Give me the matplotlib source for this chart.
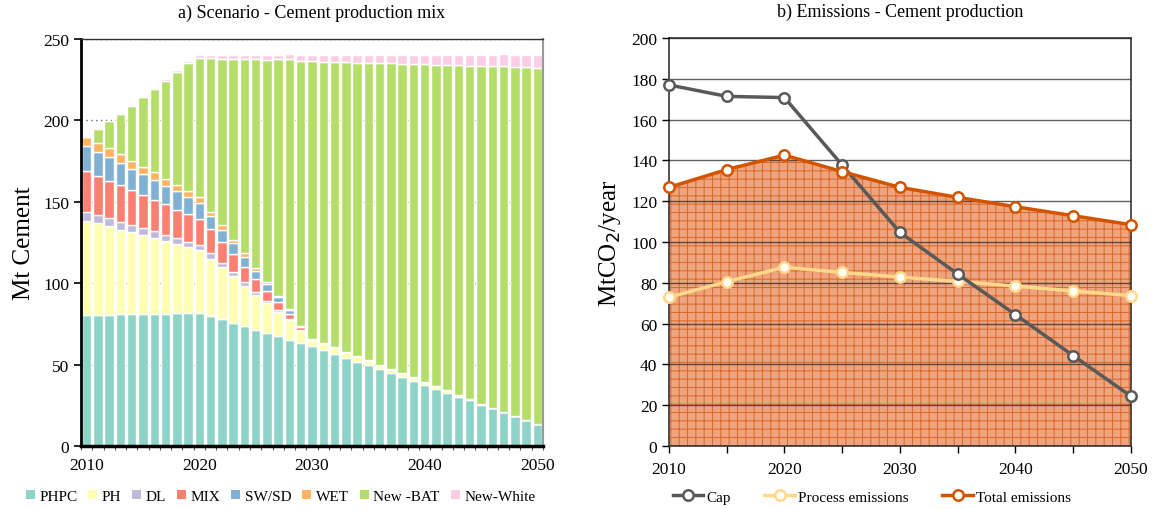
import numpy as np
import matplotlib
matplotlib.use("Agg")
import matplotlib.pyplot as plt
from matplotlib.patches import Patch
from matplotlib.lines import Line2D

plt.rcParams['font.family'] = ['Liberation Serif', 'DejaVu Serif']
plt.rcParams['font.serif'] = ['Liberation Serif', 'DejaVu Serif']
plt.rcParams['hatch.linewidth'] = 0.75

# ---- a) cement production mix (Mt cement) ----
years = np.arange(2010, 2051)
phpc = [80.7, 80.7, 80.7, 81.1, 81.1, 81.1, 81.3, 81.3, 81.7, 81.7, 81.9, 79.9, 77.8, 75.6,
        73.5, 71.4, 69.4, 67.6, 65.3, 63.3, 61.6, 59.2, 56.7, 54.3, 51.8, 49.6, 47.1, 44.8,
        42.2, 39.9, 37.5, 35.0, 32.7, 30.3, 28.1, 25.4, 23.1, 20.7, 18.2, 15.8, 13.3]
ph = [57.7, 56.3, 54.3, 51.8, 50.1, 48.5, 46.3, 44.4, 42.4, 40.3, 38.5, 35.0, 32.0, 28.6,
      25.0, 21.5, 18.2, 14.5, 11.9, 7.8, 3.7, 3.9, 3.9, 3.6, 3.5, 3.0, 2.8, 2.5, 2.6, 2.3,
      2.0, 1.9, 1.7, 1.2, 0.7, 0.6, 0.4, 0.3, 0.2, 0.2, 0.1]
dl = [5.5, 5.1, 5.0, 4.9, 4.7, 4.3, 4.3, 4.1, 3.7, 3.5, 3.3, 3.5, 2.6, 2.9, 2.4, 1.9, 1.6,
      1.4, 0.8, 0.3] + [0] * 21
mix = [24.8, 24.0, 22.6, 22.7, 21.6, 20.5, 19.2, 18.7, 17.4, 17.0, 15.7, 14.9, 13.1, 10.8,
       9.2, 7.8, 6.2, 4.7, 3.1, 1.6, 0.2] + [0] * 20
swsd = [15.5, 14.7, 14.9, 13.3, 12.6, 12.7, 12.3, 11.4, 11.2, 10.2, 9.7, 7.8, 7.4, 6.6,
        5.8, 5.1, 4.1, 3.4, 2.5, 0.6, 0.1] + [0] * 20
wet = [5.8, 5.3, 5.5, 5.4, 5.2, 4.5, 4.7, 4.1, 3.9, 4.1, 4.0, 2.8, 2.8, 2.2, 2.5, 1.6, 1.4,
       0.5, 0.3, 0.4] + [0] * 21
new_bat = [0, 8.6, 16.4, 24.9, 33.7, 42.6, 51.0, 60.4, 69.6, 78.5, 85.0, 94.2, 102.2, 111.0,
           119.1, 128.2, 136.4, 145.4, 153.6, 162.6, 170.8, 173.0, 175.3, 177.8, 180.2,
           182.9, 185.4, 187.8, 190.1, 192.5, 195.0, 197.4, 199.9, 202.6, 204.9, 207.7,
           210.2, 212.3, 214.7, 217.1, 219.1]
new_white = [0, 0.2, 0.3, 0.3, 0.4, 0.5, 0.6, 0.8, 1.0, 1.2, 2.2, 2.4, 2.4, 2.6, 2.8, 2.6,
             2.8, 3.0, 3.2, 3.3, 3.7, 4.0, 4.0, 4.3, 4.5, 4.6, 4.8, 5.3, 5.3, 5.5, 5.8, 5.9,
             6.0, 6.1, 6.8, 6.8, 6.8, 7.3, 7.4, 7.3, 7.8]

mix_names = ['PHPC', 'PH', 'DL', 'MIX', 'SW/SD', 'WET', 'New -BAT', 'New-White']
mix_colors = ['#8dd3c7', '#ffffb3', '#bebada', '#fb8072', '#80b1d3', '#fdb462',
              '#b3de69', '#fccde5']
year_ticks = [2010, 2020, 2030, 2040, 2050]

# ---- b) emissions (MtCO2/year) ----
em_years = [2010, 2015, 2020, 2025, 2030, 2035, 2040, 2045, 2050]
cap = [177.0, 171.4, 170.8, 137.7, 104.7, 84.3, 64.4, 44.3, 24.4]
process = [72.9, 80.6, 87.6, 85.1, 82.8, 80.7, 78.4, 76.0, 73.7]
total = [126.8, 135.5, 142.6, 134.5, 126.8, 121.9, 117.3, 112.9, 108.5]

fig = plt.figure(figsize=(11.64, 5.10), dpi=100)
ax1 = fig.add_axes([0.0696, 0.1235, 0.3969, 0.798])
ax2 = fig.add_axes([0.5747, 0.1235, 0.3969, 0.800])

# stacked bars
bottom = np.zeros(len(years))
for vals, name, col in zip([phpc, ph, dl, mix, swsd, wet, new_bat, new_white], mix_names, mix_colors):
    ax1.bar(years, vals, width=0.84, bottom=bottom, color=col, edgecolor='white',
            linewidth=1.0, label=name, zorder=2)
    bottom += np.array(vals)

ax1.set_xlim(2009.5, 2050.5)
ax1.set_ylim(0, 250)
ax1.set_yticks(range(0, 251, 50))
ax1.set_yticklabels([str(v) for v in range(0, 251, 50)])
ax1.set_xticks(year_ticks)
ax1.set_xticklabels([str(y) for y in year_ticks])
ax1.set_xticks(np.arange(2009.5, 2051, 1), minor=True)
ax1.tick_params(axis='x', which='major', length=0, labelsize=12.5, pad=8)
ax1.tick_params(axis='x', which='minor', length=3, width=0.8, color='#555555')
ax1.tick_params(axis='y', length=5, width=1.2, labelsize=12.5, direction='out')
ax1.yaxis.grid(True, linestyle=(0, (1, 2.5)), color='#666666', linewidth=1.0, zorder=0)
ax1.set_axisbelow(True)
ax1.spines['left'].set_linewidth(2.0)
ax1.spines['bottom'].set_linewidth(2.5)
ax1.spines['top'].set_linewidth(1.0)
ax1.spines['top'].set_color('#333333')
ax1.spines['right'].set_linewidth(1.5)
ax1.spines['right'].set_color('#999999')
ax1.set_ylabel('Mt Cement', fontsize=18, labelpad=6)
ax1.set_title('a) Scenario - Cement production mix', fontsize=13, pad=16)

handles1 = [Patch(facecolor=c, edgecolor='none') for c in mix_colors]
fig.legend(handles1, mix_names, loc='center', bbox_to_anchor=(0.241, 0.025), ncol=8,
           frameon=False, fontsize=11, handlelength=0.6, handleheight=0.6,
           handletextpad=0.3, columnspacing=0.7, borderaxespad=0)

# emissions chart
ax2.fill_between(em_years, 0, total, facecolor='#eda47f', edgecolor='#dc6a2c',
                 hatch='++', linewidth=0, zorder=1)
ax2.yaxis.grid(True, color='#2b2b2b', linewidth=1.0, alpha=0.75, zorder=2)
ax2.set_axisbelow(False)
ax2.plot(em_years, process, color='#ffd88a', lw=2.5, marker='o', ms=7.5,
         mfc='white', mec='#ffd88a', mew=1.8, zorder=4, clip_on=False, label='Process emissions')
ax2.plot(em_years, cap, color='#595959', lw=2.5, marker='o', ms=7.5,
         mfc='white', mec='#595959', mew=1.8, zorder=5, clip_on=False, label='Cap')
ax2.plot(em_years, total, color='#d35400', lw=2.5, marker='o', ms=7.5,
         mfc='white', mec='#d35400', mew=1.8, zorder=6, clip_on=False, label='Total emissions')

ax2.set_xlim(2010, 2050)
ax2.set_ylim(0, 200)
ax2.set_yticks(range(0, 201, 20))
ax2.set_yticklabels([str(v) for v in range(0, 201, 20)])
ax2.set_xticks(year_ticks)
ax2.set_xticklabels([str(y) for y in year_ticks])
ax2.set_xticks(range(2015, 2050, 10), minor=True)
ax2.tick_params(axis='x', which='both', length=5, width=1.0, labelsize=12.5, pad=6)
ax2.tick_params(axis='y', length=5, width=1.0, labelsize=12.5)
for side in ['left', 'bottom', 'top', 'right']:
    ax2.spines[side].set_color('#333333')
    ax2.spines[side].set_linewidth(1.2)
ax2.spines['bottom'].set_zorder(7)
ax2.set_ylabel('MtCO$_2$/year', fontsize=18, labelpad=6)
ax2.set_title('b) Emissions - Cement production', fontsize=13, pad=16)

handles2 = [Line2D([], [], color=c, lw=2.5, marker='o', ms=7.5, mfc='white', mec=c, mew=1.8)
            for c in ['#595959', '#ffd88a', '#d35400']]
fig.legend(handles2, ['Cap', 'Process emissions', 'Total emissions'], loc='center',
           bbox_to_anchor=(0.749, 0.024), ncol=3, frameon=False, fontsize=11,
           handlelength=2.0, handletextpad=0.2, columnspacing=2.2, borderaxespad=0)

fig.savefig('out.png', dpi=100)
